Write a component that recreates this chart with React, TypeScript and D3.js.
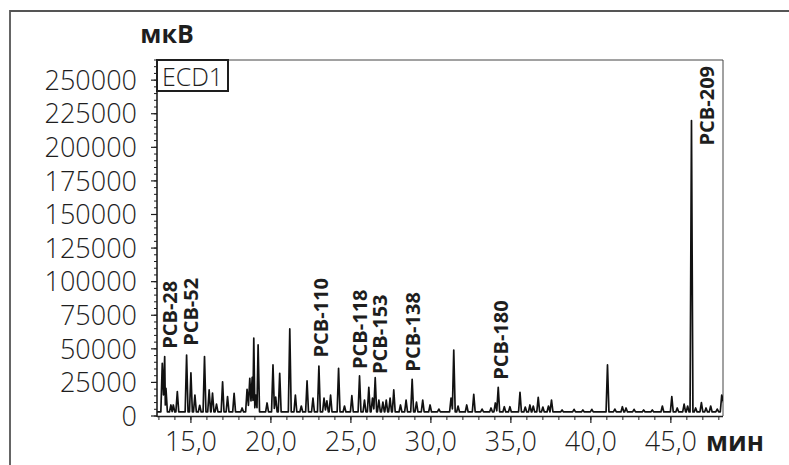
import React from "react";
import * as d3 from "d3";

// Chromatogram peaks: [retention time (min), height (µV)]
const peaks: [number, number][] = [
  [13.21, 39200], [13.36, 44200], [13.44, 20600], [13.75, 8200], [13.9, 8200],
  [14.15, 18100], [14.73, 45400], [15.0, 32200], [15.25, 15600], [15.55, 8000],
  [15.85, 44200], [16.14, 19400], [16.35, 17100], [16.6, 8900], [16.98, 25500],
  [17.29, 14400], [17.7, 16900], [18.2, 6000], [18.51, 19900], [18.68, 28100],
  [18.83, 28800], [18.93, 57900], [19.06, 15600], [19.2, 52900], [19.76, 9700],
  [20.13, 38000], [20.3, 14100], [20.55, 31800], [21.18, 64800], [21.53, 15600],
  [21.9, 7400], [22.26, 26100], [22.63, 13400], [23.0, 37200], [23.32, 13400],
  [23.5, 11200], [23.73, 15600], [24.23, 35500], [24.6, 7400], [25.06, 15100],
  [25.54, 29800], [25.85, 11900], [26.12, 21400], [26.35, 13400], [26.52, 28500],
  [26.75, 11900], [27.0, 10400], [27.21, 11900], [27.45, 13400], [27.68, 19400],
  [28.1, 8200], [28.45, 11900], [28.83, 27300], [29.1, 10400], [29.49, 11900],
  [29.95, 8200], [30.5, 5200], [31.26, 13400], [31.43, 49100], [31.7, 7400],
  [32.24, 8200], [32.68, 16200], [33.2, 5200], [33.76, 6000], [34.03, 9700],
  [34.21, 21400], [34.59, 6900], [34.94, 6900], [35.57, 17600], [35.9, 6700],
  [36.19, 8200], [36.4, 7400], [36.71, 13900], [37.0, 6700], [37.35, 7400],
  [37.54, 11900], [38.2, 4500], [38.95, 5000], [39.5, 4500], [40.06, 5000],
  [41.04, 38000], [41.5, 5200], [41.97, 6900], [42.2, 6000], [42.7, 5000],
  [43.3, 4500], [43.84, 4500], [44.47, 7400], [45.06, 14400], [45.4, 6000],
  [45.83, 8900], [46.05, 7400], [46.29, 219900], [46.55, 6000], [46.91, 9900],
  [47.2, 6000], [47.49, 7400], [47.9, 5200], [48.18, 15600],
];
const baselineLevel = 3000;

// Peak labels: [name, anchor time, anchor value]
const peakLabels: [string, number, number][] = [
  ["PCB-28", 14.13, 50000],
  ["PCB-52", 15.44, 52200],
  ["PCB-110", 23.55, 43500],
  ["PCB-118", 25.98, 35000],
  ["PCB-153", 27.23, 31300],
  ["PCB-138", 29.35, 33000],
  ["PCB-180", 34.79, 26900],
  ["PCB-209", 47.7, 201400],
];

const xDomain: [number, number] = [12.88, 48.26];
const yDomain: [number, number] = [0, 265000];
const xMajorTicks = [15, 20, 25, 30, 35, 40, 45];
const yMajorTicks = [0, 25000, 50000, 75000, 100000, 125000, 150000, 175000, 200000, 225000, 250000];
const yUnit = "мкВ";
const xUnit = "мин";
const detectorName = "ECD1";

const W = 789;
const H = 465;
const M = { left: 157, top: 60, right: 723, bottom: 416 };
const FONT = "'Open Sans', 'DejaVu Sans', sans-serif";
const INK = "#1e1e1e";

export default function App() {
  const x = d3.scaleLinear().domain(xDomain).range([M.left, M.right]);
  const y = d3.scaleLinear().domain(yDomain).range([M.bottom, M.top]);

  // build trace points from peaks
  const hw = 0.09;
  const sorted = [...peaks].sort((a, b) => a[0] - b[0]);
  const pts: [number, number][] = [[xDomain[0], baselineLevel]];
  sorted.forEach((p, i) => {
    const prev = sorted[i - 1];
    if (!prev) {
      pts.push([p[0] - hw, baselineLevel]);
    } else {
      const gap = p[0] - prev[0];
      if (gap > 2 * hw + 0.02) {
        pts.push([prev[0] + hw, baselineLevel]);
        pts.push([p[0] - hw, baselineLevel]);
      } else {
        pts.push([(prev[0] + p[0]) / 2, Math.max(baselineLevel, Math.min(prev[1], p[1]) * 0.4)]);
      }
    }
    pts.push(p);
  });
  const last = sorted[sorted.length - 1];
  if (last[0] + hw < xDomain[1]) pts.push([last[0] + hw, baselineLevel]);
  pts.push([xDomain[1] + 0.2, baselineLevel]);

  const line = d3.line<[number, number]>().x((d) => x(d[0])).y((d) => y(d[1]));

  const locale = d3.formatLocale({ decimal: ",", thousands: "", grouping: [3], currency: ["", ""] });
  const fx = locale.format(".1f");

  const xMinor = d3.range(13, 49, 1).filter((t) => t <= xDomain[1]);
  const yMinor = d3.range(0, 265001, 5000);

  return (
    <svg width={W} height={H} style={{ position: "absolute", left: 0, top: 0, display: "block" }}>
      <rect x={0} y={0} width={W} height={H} fill="#fff" />
      {/* outer frame */}
      <path d={`M10,${H + 2} L10,11 L${W + 2},11`} fill="none" stroke="#555" strokeWidth={1.8} />

      {/* y unit */}
      <text x={167} y={43} textAnchor="middle" fontFamily={FONT} fontWeight={700} fontSize={25} fill={INK}>
        {yUnit}
      </text>

      {/* plot frame */}
      <path d={`M${M.left},${M.top} L${M.right},${M.top} L${M.right},${M.bottom}`} fill="none" stroke="#444" strokeWidth={1} />

      <defs>
        <clipPath id="plotclip">
          <rect x={M.left} y={M.top} width={M.right - M.left} height={M.bottom - M.top} />
        </clipPath>
      </defs>

      {/* trace */}
      <path d={line(pts) || ""} fill="none" stroke="#111" strokeWidth={1.7} strokeLinejoin="round" clipPath="url(#plotclip)" />

      {/* axes lines */}
      <line x1={M.left} x2={M.left} y1={M.top} y2={M.bottom + 1} stroke={INK} strokeWidth={1.6} />
      <line x1={M.left} x2={M.right} y1={M.bottom + 0.5} y2={M.bottom + 0.5} stroke={INK} strokeWidth={1.6} />

      {/* y ticks */}
      {yMinor.map((v) => (
        <line key={"ym" + v} x1={M.left - 3} x2={M.left} y1={y(v)} y2={y(v)} stroke={INK} strokeWidth={1} />
      ))}
      {yMajorTicks.map((v) => (
        <g key={"y" + v}>
          <line x1={M.left - 6} x2={M.left} y1={y(v)} y2={y(v)} stroke={INK} strokeWidth={1.2} />
          <text x={137} y={y(v)} dy="0.36em" textAnchor="end" fontFamily={FONT} fontWeight={300} fontSize={27} fill={INK}>
            {v}
          </text>
        </g>
      ))}

      {/* x ticks */}
      {xMinor.map((t) => (
        <line key={"xm" + t} x1={x(t)} x2={x(t)} y1={M.bottom + 1} y2={M.bottom + 4} stroke={INK} strokeWidth={1} />
      ))}
      {xMajorTicks.map((t) => (
        <g key={"x" + t}>
          <line x1={x(t)} x2={x(t)} y1={M.bottom + 1} y2={M.bottom + 7} stroke={INK} strokeWidth={1.2} />
          <text x={x(t)} y={451} textAnchor="middle" fontFamily={FONT} fontWeight={300} fontSize={27} fill={INK}>
            {fx(t)}
          </text>
        </g>
      ))}
      <text x={706} y={451} textAnchor="start" fontFamily={FONT} fontWeight={700} fontSize={26} fill={INK}>
        {xUnit}
      </text>

      {/* detector box */}
      <rect x={M.left} y={M.top} width={71} height={31} fill="#fff" stroke={INK} strokeWidth={2} />
      <text x={M.left + 35.5} y={M.top + 26} textAnchor="middle" fontFamily={FONT} fontWeight={300} fontSize={25} fill={INK}>
        {detectorName}
      </text>

      {/* peak labels */}
      {peakLabels.map(([name, t, v]) => (
        <text
          key={name}
          transform={`translate(${x(t)},${y(v)}) rotate(-90)`}
          fontFamily={FONT}
          fontWeight={700}
          fontSize={20}
          fill={INK}
        >
          {name}
        </text>
      ))}
    </svg>
  );
}
